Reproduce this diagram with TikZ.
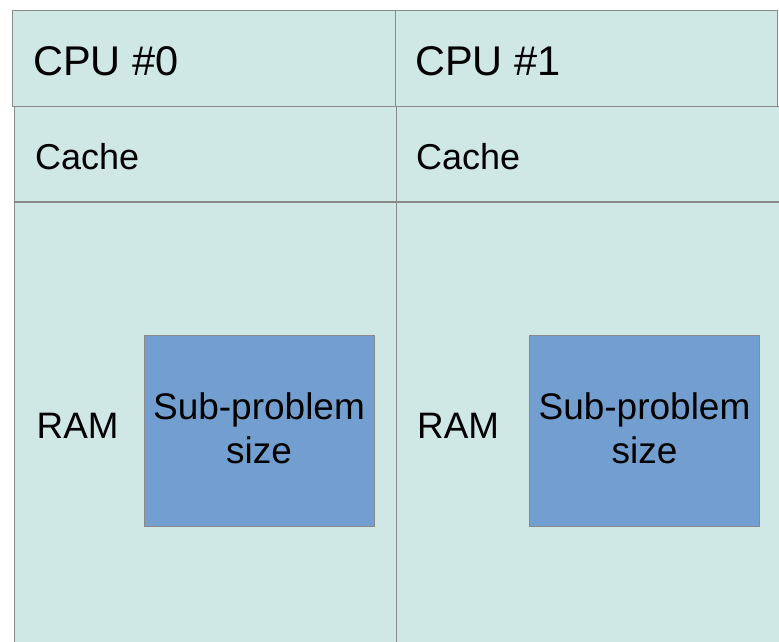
\documentclass[tikz,border=0pt]{standalone}
\usepackage{fontspec}
\setmainfont{Liberation Sans}
\definecolor{panel}{HTML}{CFE7E5}
\definecolor{subfill}{HTML}{729FCF}
\definecolor{edgegray}{HTML}{8A8A8A}
\begin{document}
\begin{tikzpicture}[x=1pt,y=-1pt,
  panelbox/.style={draw=edgegray, fill=panel, line width=0.9pt, anchor=north west, inner sep=0pt, outer sep=0pt},
  subbox/.style={draw=edgegray, fill=subfill, line width=0.9pt, anchor=north west, inner sep=0pt, outer sep=0pt, minimum width=230pt, minimum height=191pt},
  bigtxt/.style={anchor=base west, inner sep=0pt, font=\fontsize{41.5}{49}\selectfont},
  midtxt/.style={anchor=base west, inner sep=0pt, font=\fontsize{36}{43}\selectfont},
  ramtxt/.style={anchor=base west, inner sep=0pt, font=\fontsize{36.8}{43}\selectfont},
  subtxt/.style={align=center, inner sep=0pt, font=\fontsize{37}{44}\selectfont}]
\clip (0,0) rectangle (779,642);
\fill[white] (0,0) rectangle (779,642);
% RAM panels
\node[panelbox, minimum width=382.5pt, minimum height=460pt] (ram0) at (14,202) {};
\node[panelbox, minimum width=390pt, minimum height=460pt] (ram1) at (396.5,202) {};
% Cache panels
\node[panelbox, minimum width=382.3pt, minimum height=95pt] (cache0) at (14,106.7) {};
\node[panelbox, minimum width=390pt, minimum height=95pt] (cache1) at (396.3,106.7) {};
% CPU panels
\node[panelbox, minimum width=383pt, minimum height=96.7pt] (cpu0) at (12,10) {};
\node[panelbox, minimum width=382.7pt, minimum height=96.7pt] (cpu1) at (395,10) {};
% Sub-problem boxes
\node[subbox] (sub0) at (144,335) {};
\node[subbox] (sub1) at (529.5,335) {};
% texts
\node[bigtxt] (tcpu0) at (33,76) {CPU \#0};
\node[bigtxt] (tcpu1) at (415,76) {CPU \#1};
\node[midtxt] (tcache0) at (35,169) {Cache};
\node[midtxt] (tcache1) at (416,169) {Cache};
\node[ramtxt] (tram0) at (36.5,438) {RAM};
\node[ramtxt] (tram1) at (417,438) {RAM};
\node[subtxt] (tsub0) at ([yshift=2.5pt]sub0.center) {Sub-problem\\size};
\node[subtxt] (tsub1) at ([yshift=2.5pt]sub1.center) {Sub-problem\\size};
\end{tikzpicture}
\end{document}
